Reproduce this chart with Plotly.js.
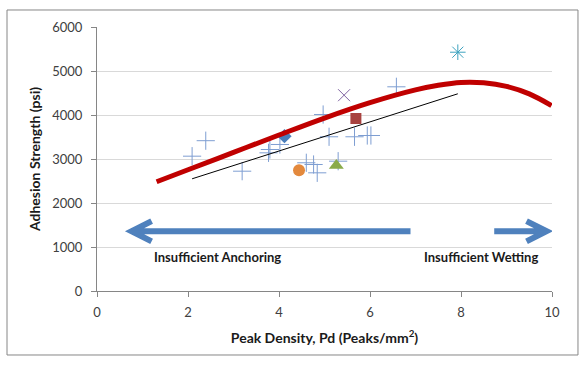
<!DOCTYPE html>
<html>
<head>
<meta charset="utf-8">
<script src="https://cdn.plot.ly/plotly-3.0.1.min.js"></script>
<style>html,body{margin:0;padding:0;background:#fff;}#chart{width:588px;height:375px;}</style>
</head>
<body>
<div id="chart"></div>
<script>
// ---- data ----
var plusX = [2.09, 2.39, 3.19, 3.77, 3.80, 4.02, 4.97, 5.10, 4.60, 4.76, 4.84, 5.30, 6.58, 5.66, 5.94, 6.02];
var plusY = [3064, 3416, 2723, 3140, 3216, 3330, 4011, 3505, 2914, 2875, 2686, 2950, 4641, 3505, 3534, 3534];
var diamondX = [4.12], diamondY = [3518];
var squareX = [5.69], squareY = [3920];
var circleX = [4.44], circleY = [2746];
var triangleX = [5.26], triangleY = [2850];
var crossX = [5.43], crossY = [4450];
var starX = [7.93], starY = [5427];
var trendX = [2.09, 7.93], trendY = [2550, 4482];
var curveX = [1.31, 2, 3, 4, 5, 6, 7, 7.5, 8, 8.5, 9, 9.5, 9.99];
var curveY = [2482, 2755, 3150, 3545, 3930, 4280, 4570, 4675, 4740, 4732, 4650, 4480, 4213];
var xTicks = [0, 2, 4, 6, 8, 10];
var yTicks = [0, 1000, 2000, 3000, 4000, 5000, 6000];
// arrows: [shaft end, tip] at arrowY
var arrowY = 1359;
var leftArrow = [6.89, 0.76];
var rightArrow = [8.73, 9.88];
var labelText = ['Insufficient Anchoring', 'Insufficient Wetting'];
var labelX = [2.65, 8.43];
var labelY = [768, 768];

var FONT = 'Lato, "Open Sans", sans-serif';

function pt(name, x, y, sym, size, color, open) {
  var m = {symbol: sym, size: size, color: color};
  if (open) m.line = {color: color, width: 1};
  return {type: 'scatter', mode: 'markers', name: name, x: x, y: y, marker: m, hoverinfo: 'skip'};
}

var traces = [
  pt('plus', plusX, plusY, 'cross-thin-open', 13, '#7e9ed2', true),
  pt('diamond', diamondX, diamondY, 'diamond', 11, '#4a7ebb', false),
  pt('circle', circleX, circleY, 'circle', 12, '#e3893d', false),
  pt('triangle', triangleX, triangleY, 'triangle-up', 13, '#8aab4a', false),
  pt('square', squareX, squareY, 'square', 11, '#a8423f', false),
  pt('x', crossX, crossY, 'x-thin-open', 12, '#8064a2', true),
  pt('star', starX, starY, 'asterisk-open', 13, '#3ea3bf', true),
  {type: 'scatter', mode: 'lines', x: trendX, y: trendY, line: {color: '#000', width: 1}, hoverinfo: 'skip'},
  {type: 'scatter', mode: 'lines', x: curveX, y: curveY, line: {color: '#c00000', width: 5, shape: 'spline', smoothing: 1}, hoverinfo: 'skip'}
];

var headDX = 0.44, headDY = 230;
function arrowPath(a) {
  var tail = a[0], tip = a[1];
  var dir = tip > tail ? 1 : -1;
  var bx = tip - dir * headDX;
  return 'M' + tail + ',' + arrowY + ' L' + tip + ',' + arrowY +
         ' M' + bx + ',' + (arrowY + headDY) + ' L' + tip + ',' + arrowY + ' L' + bx + ',' + (arrowY - headDY);
}

var shapes = [
  {type: 'path', xref: 'x', yref: 'y', path: arrowPath(leftArrow), line: {color: '#4f81bd', width: 6}},
  {type: 'path', xref: 'x', yref: 'y', path: arrowPath(rightArrow), line: {color: '#4f81bd', width: 6}},
  {type: 'rect', xref: 'paper', yref: 'paper', x0: -0.1978, x1: 1.0571, y0: -0.2424, y1: 1.0644,
   line: {color: '#868686', width: 1}, fillcolor: 'rgba(0,0,0,0)', layer: 'below'}
];

var annotations = labelText.map(function (t, i) {
  return {x: labelX[i], y: labelY[i], xref: 'x', yref: 'y', text: '<b>' + t + '</b>', showarrow: false,
          font: {family: FONT, size: 13, color: '#1a1a1a'}};
});

var layout = {
  width: 588, height: 375,
  margin: {l: 97, r: 36, t: 27, b: 84},
  paper_bgcolor: '#fff', plot_bgcolor: '#fff',
  showlegend: false, hovermode: false,
  font: {family: FONT, color: '#404040', size: 13},
  xaxis: {
    range: [0, 10], tickvals: xTicks, ticktext: xTicks.map(String),
    showgrid: false, zeroline: false, showline: true, linecolor: '#868686', linewidth: 1,
    ticks: 'outside', ticklen: 5, tickcolor: '#868686', ticklabelstandoff: 4,
    tickfont: {family: FONT, size: 13, color: '#404040'},
    title: {text: '<b>Peak Density, Pd (Peaks/mm<sup>2</sup>)</b>', font: {family: FONT, size: 14, color: '#1a1a1a'}, standoff: 14}
  },
  yaxis: {
    range: [0, 6000], tickvals: yTicks, ticktext: yTicks.map(String),
    showgrid: true, gridcolor: '#d9d9d9', gridwidth: 1, zeroline: false,
    showline: true, linecolor: '#868686', linewidth: 1,
    ticks: 'outside', ticklen: 5, tickcolor: '#868686', ticklabelstandoff: 6,
    tickfont: {family: FONT, size: 13, color: '#404040'},
    title: {text: '<b>Adhesion Strength (psi)</b>', font: {family: FONT, size: 14, color: '#1a1a1a'}, standoff: 8}
  },
  shapes: shapes,
  annotations: annotations
};

Plotly.newPlot('chart', traces, layout, {displayModeBar: false, staticPlot: true});
</script>
</body>
</html>
